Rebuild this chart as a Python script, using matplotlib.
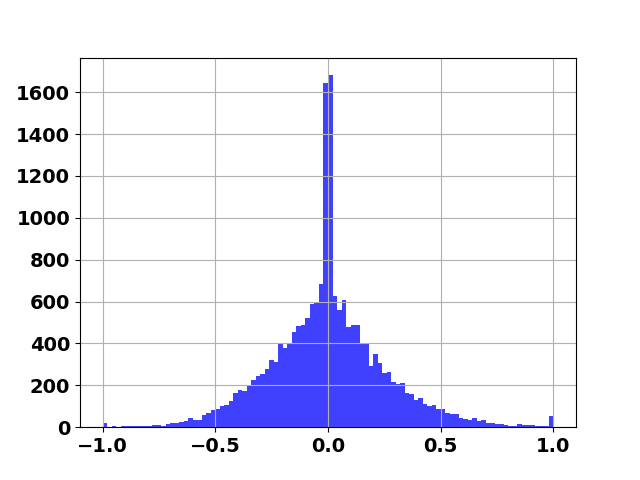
import numpy as np
import matplotlib
matplotlib.use("Agg")
import matplotlib.pyplot as plt

# 100 equal bins between -1 and 1, counts
bin_edges = np.linspace(-1.0, 1.0, 101)
counts = [
    20, 0, 6, 0, 5, 5, 5, 5, 5, 5,
    5, 11, 11, 6, 17, 20, 22, 25, 28, 42,
    34, 34, 57, 67, 81, 86, 100, 105, 124, 162,
    177, 172, 199, 224, 244, 253, 277, 320, 310, 398,
    379, 398, 454, 484, 487, 522, 587, 592, 683, 1643,
    1681, 626, 559, 607, 479, 487, 487, 400, 400, 293,
    349, 306, 258, 263, 215, 205, 210, 162, 158, 129,
    138, 110, 100, 105, 86, 86, 68, 64, 64, 43,
    38, 33, 43, 29, 33, 19, 19, 14, 14, 10,
    5, 5, 14, 10, 10, 10, 5, 5, 5, 53,
]

bin_centers = (bin_edges[:-1] + bin_edges[1:]) / 2

plt.rcParams["font.size"] = 14
plt.rcParams["font.weight"] = "bold"

fig, ax = plt.subplots(figsize=(6.4, 4.8), dpi=100)
ax.hist(bin_centers, bins=bin_edges, weights=counts, color="blue", alpha=0.75)
ax.grid(True)
fig.savefig("out.png")
